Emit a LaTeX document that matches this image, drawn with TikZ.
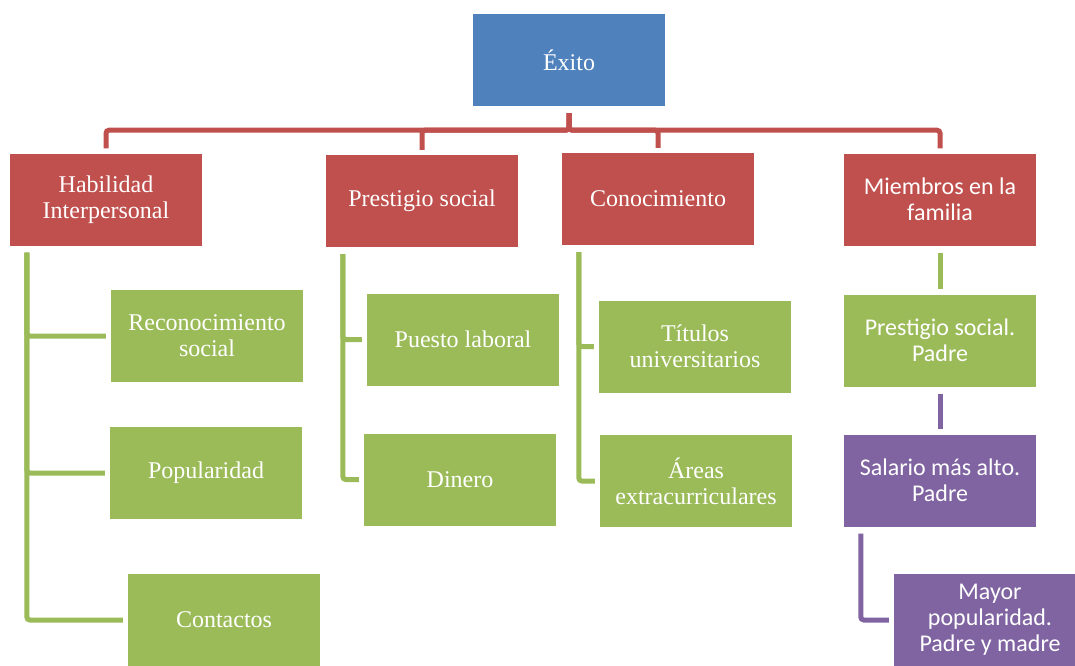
\documentclass[tikz,border=0pt]{standalone}
\usepackage{fontspec}
\setmainfont{Liberation Serif}
\newfontfamily\calibri{Carlito}
\usepackage{tikz}
\usetikzlibrary{
  positioning
  , calc
}
\definecolor{exitoblue}{HTML}{4F81BD}
\definecolor{boxred}{HTML}{C0504D}
\definecolor{boxgreen}{HTML}{9BBB59}
\definecolor{boxpurple}{HTML}{8064A2}

\begin{document}
\begin{tikzpicture}[x=1pt, y=-1pt]
      \tikzstyle{box template}=[rectangle, minimum width=192pt, minimum height=92pt, inner sep=0pt, text=white, align=center, font=\fontsize{24}{26}\selectfont]
      \tikzstyle{blue box}=[box template, fill=exitoblue]
      \tikzstyle{red box}=[box template, fill=boxred]
      \tikzstyle{green box}=[box template, fill=boxgreen]
      \tikzstyle{purple box}=[box template, fill=boxpurple]
      \tikzstyle{link}=[line width=5pt, rounded corners=3pt, shorten <=7pt, shorten >=5pt]

      \useasboundingbox (0,0) rectangle (1075,665);
      \clip (0,0) rectangle (1075,665);

      % top and first level
      \node [blue box] (Ex) at (569,60){Éxito};
      \node [red box] (Hab) at (106,199.5){Habilidad\\Interpersonal};
      \node [red box] (Pre) at (422,201){Prestigio social};
      \node [red box] (Cno) at (658,199){Conocimiento};
      \node [red box, font=\calibri\fontsize{24}{26}\selectfont] (Mie) at (940,199.5){Miembros en la\\familia};

      \foreach \child in {Hab, Pre, Cno, Mie}
        \draw [link, boxred] (Ex.south) -- ++(0,24) -| (\child.north);

      % second level
      \node [green box] (Rec) at (207,336){Reconocimiento\\social};
      \node [green box] (Pop) at (206,473){Popularidad};
      \node [green box] (Con) at (224,620){Contactos};
      \node [green box] (Pue) at (463,339.5){Puesto laboral};
      \node [green box] (Din) at (460,479.5){Dinero};
      \node [green box] (Tit) at (695,346.5){Títulos\\universitarios};
      \node [green box] (Are) at (696,481){Áreas\\extracurriculares};
      \node [green box, font=\calibri\fontsize{24}{26}\selectfont] (PSP) at (940,340.5){Prestigio social.\\Padre};
      \node [purple box, font=\calibri\fontsize{24}{26}\selectfont] (Sal) at (940,480.5){Salario más alto.\\Padre};
      \node [purple box, font=\calibri\fontsize{24}{26}\selectfont] (May) at (990,620){Mayor\\popularidad.\\Padre y madre};

      \foreach \child in {Rec, Pop, Con}
        \draw [link, boxgreen] ([xshift=17pt]Hab.south west) |- (\child.west);
      \foreach \child in {Pue, Din}
        \draw [link, boxgreen] ([xshift=17pt]Pre.south west) |- (\child.west);
      \foreach \child in {Tit, Are}
        \draw [link, boxgreen] ([xshift=17pt]Cno.south west) |- (\child.west);
      \draw [link, boxgreen] (Mie.south) -- (PSP.north);
      \draw [link, boxpurple] (PSP.south) -- (Sal.north);
      \draw [link, boxpurple] ([xshift=17pt]Sal.south west) |- (May.west);

    \end{tikzpicture}
\end{document}
